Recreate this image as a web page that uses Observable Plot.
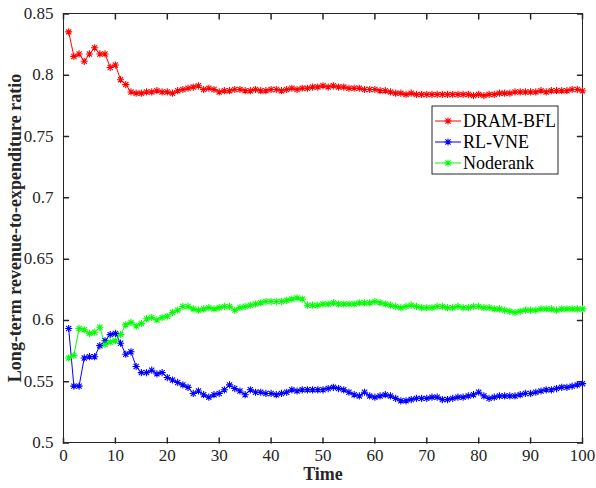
<!DOCTYPE html>
<html>
<head>
<meta charset="utf-8">
<script src="https://cdn.jsdelivr.net/npm/d3@7"></script>
<script src="https://cdn.jsdelivr.net/npm/@observablehq/plot@0.6"></script>
<style>
  html, body { margin: 0; padding: 0; background: #fff; }
  #chart { width: 596px; height: 488px; }
</style>
</head>
<body>
<div id="chart"></div>
<script>
// ---- data ----
const seriesNames = ["DRAM-BFL", "RL-VNE", "Noderank"];
const seriesColors = ["#ff0000", "#0000ff", "#00ff00"];
const xTicks = [0, 10, 20, 30, 40, 50, 60, 70, 80, 90, 100];
const yTicks = [0.5, 0.55, 0.6, 0.65, 0.7, 0.75, 0.8, 0.85];
const yTickLabels = ["0.5", "0.55", "0.6", "0.65", "0.7", "0.75", "0.8", "0.85"];

const dramBFL = [
  0.835, 0.815, 0.817, 0.811, 0.817, 0.822, 0.817, 0.817, 0.806, 0.808,
  0.796, 0.792, 0.786, 0.785, 0.785, 0.786, 0.786, 0.787, 0.786, 0.786,
  0.785, 0.787, 0.788, 0.789, 0.790, 0.791, 0.788, 0.789, 0.788, 0.786,
  0.787, 0.787, 0.788, 0.788, 0.787, 0.787, 0.788, 0.787, 0.787, 0.788,
  0.788, 0.787, 0.788, 0.789, 0.788, 0.789, 0.789, 0.790, 0.790, 0.791,
  0.790, 0.791, 0.790, 0.790, 0.789, 0.789, 0.789, 0.788, 0.788, 0.788,
  0.787, 0.787, 0.786, 0.785, 0.785, 0.784, 0.785, 0.784, 0.784, 0.784,
  0.784, 0.784, 0.784, 0.784, 0.784, 0.784, 0.784, 0.784, 0.783, 0.784,
  0.783, 0.784, 0.784, 0.785, 0.785, 0.785, 0.786, 0.786, 0.786, 0.786,
  0.786, 0.787, 0.786, 0.787, 0.787, 0.787, 0.787, 0.788, 0.788, 0.787
];
const rlVNE = [
  0.593, 0.546, 0.546, 0.569, 0.570, 0.570, 0.579, 0.583, 0.588, 0.589,
  0.581, 0.572, 0.574, 0.562, 0.557, 0.557, 0.559, 0.556, 0.557, 0.553,
  0.551, 0.549, 0.547, 0.545, 0.540, 0.542, 0.539, 0.537, 0.539, 0.540,
  0.543, 0.547, 0.544, 0.542, 0.539, 0.543, 0.541, 0.541, 0.540, 0.540,
  0.539, 0.540, 0.541, 0.543, 0.542, 0.543, 0.543, 0.543, 0.543, 0.543,
  0.544, 0.545, 0.544, 0.543, 0.541, 0.539, 0.538, 0.541, 0.538, 0.537,
  0.538, 0.539, 0.538, 0.536, 0.534, 0.534, 0.535, 0.536, 0.536, 0.536,
  0.537, 0.537, 0.535, 0.535, 0.536, 0.537, 0.537, 0.538, 0.539, 0.541,
  0.538, 0.536, 0.537, 0.538, 0.538, 0.538, 0.538, 0.539, 0.540, 0.540,
  0.541, 0.542, 0.543, 0.543, 0.544, 0.545, 0.545, 0.546, 0.547, 0.548
];
const noderank = [
  0.569, 0.571, 0.593, 0.592, 0.589, 0.590, 0.594, 0.580, 0.582, 0.583,
  0.588, 0.596, 0.598, 0.595, 0.597, 0.601, 0.602, 0.600, 0.602, 0.603,
  0.606, 0.608, 0.611, 0.611, 0.609, 0.608, 0.609, 0.610, 0.609, 0.610,
  0.611, 0.611, 0.608, 0.610, 0.611, 0.612, 0.613, 0.614, 0.615, 0.615,
  0.615, 0.615, 0.616, 0.617, 0.618, 0.617, 0.612, 0.612, 0.612, 0.613,
  0.613, 0.614, 0.613, 0.613, 0.613, 0.613, 0.614, 0.614, 0.614, 0.615,
  0.614, 0.613, 0.612, 0.611, 0.610, 0.611, 0.612, 0.611, 0.610, 0.610,
  0.610, 0.611, 0.611, 0.610, 0.610, 0.611, 0.610, 0.610, 0.611, 0.611,
  0.610, 0.610, 0.609, 0.609, 0.608, 0.607, 0.606, 0.607, 0.608, 0.608,
  0.608, 0.609, 0.609, 0.609, 0.608, 0.609, 0.609, 0.609, 0.609, 0.609
];
const seriesValues = [dramBFL, rlVNE, noderank];

// ---- build table ----
const rows = [];
seriesNames.forEach((name, si) => {
  seriesValues[si].forEach((v, i) => rows.push({series: name, time: i + 1, value: v}));
});

// MATLAB-like "*" marker: plus + cross
const star8 = {
  draw(context, size) {
    const r = Math.sqrt(size / Math.PI);
    const d = r * 0.72;
    context.moveTo(-r, 0); context.lineTo(r, 0);
    context.moveTo(0, -r); context.lineTo(0, r);
    context.moveTo(-d, -d); context.lineTo(d, d);
    context.moveTo(-d, d); context.lineTo(d, -d);
  }
};

// inward tick shapes (length in px)
const TICK = 5;
const tickIn = (dx, dy) => ({draw(context, l) { context.moveTo(0, 0); context.lineTo(dx * TICK, dy * TICK); }});

const FONT = "'Liberation Serif', 'Times New Roman', Times, serif";
const axisColor = "#262626";

const chart = Plot.plot({
  width: 596,
  height: 488,
  marginLeft: 63,
  marginRight: 14,
  marginTop: 13,
  marginBottom: 46,
  style: {fontFamily: FONT, fontSize: "17px", color: axisColor, background: "#fff", overflow: "visible"},
  x: {domain: [0, 100]},
  y: {domain: [0.5, 0.85]},
  color: {domain: seriesNames, range: seriesColors},
  marks: [
    Plot.axisX({ticks: xTicks, tickSize: 0, tickPadding: 6, label: null, fill: axisColor, fontSize: 17, fontFamily: FONT}),
    Plot.axisY({ticks: yTicks, tickSize: 0, tickPadding: 10, label: null, fill: axisColor, fontSize: 17, fontFamily: FONT,
      tickFormat: (d) => yTickLabels[yTicks.findIndex(t => Math.abs(t - d) < 1e-9)]}),
    // inward ticks on all four sides
    Plot.vector(xTicks, {x: d => d, frameAnchor: "bottom", length: 1, shape: tickIn(0, -1), stroke: axisColor}),
    Plot.vector(xTicks, {x: d => d, frameAnchor: "top", length: 1, shape: tickIn(0, 1), stroke: axisColor}),
    Plot.vector(yTicks, {y: d => d, frameAnchor: "left", length: 1, shape: tickIn(1, 0), stroke: axisColor}),
    Plot.vector(yTicks, {y: d => d, frameAnchor: "right", length: 1, shape: tickIn(-1, 0), stroke: axisColor}),
    Plot.frame({stroke: axisColor, strokeWidth: 1}),
    Plot.line(rows, {x: "time", y: "value", z: "series", stroke: "series", strokeWidth: 1}),
    Plot.dot(rows, {x: "time", y: "value", stroke: "series", symbol: () => star8, r: 3.6, strokeWidth: 1.1}),
    Plot.text(["Time"], {frameAnchor: "bottom", textAnchor: "middle", dy: 37, fontWeight: "bold", fontSize: 18, fill: axisColor, fontFamily: FONT}),
    Plot.text(["Long-term revenue-to-expenditure ratio"], {frameAnchor: "left", textAnchor: "middle", dx: -48, rotate: -90, fontWeight: "bold", fontSize: 18, fill: axisColor, fontFamily: FONT})
  ]
});

document.getElementById("chart").appendChild(chart);

// ---- legend inside the plot (top right area) ----
const svg = d3.select(chart);
const lg = svg.append("g").attr("transform", "translate(432,106)");
lg.append("rect").attr("width", 126).attr("height", 68).attr("fill", "#fff").attr("stroke", axisColor).attr("stroke-width", 1);
seriesNames.forEach((name, i) => {
  const cy = 15 + i * 21;
  const g = lg.append("g").attr("transform", `translate(0,${cy})`);
  g.append("line").attr("x1", 3).attr("x2", 29).attr("y1", 0).attr("y2", 0).attr("stroke", seriesColors[i]).attr("stroke-width", 1);
  const p = d3.path();
  star8.draw(p, Math.PI * 3.6 * 3.6);
  g.append("path").attr("d", p.toString()).attr("transform", "translate(16,0)").attr("stroke", seriesColors[i]).attr("stroke-width", 1.1).attr("fill", "none");
  g.append("text").attr("x", 31).attr("y", 0).attr("dy", "0.35em")
    .attr("text-anchor", "start").style("font-family", FONT).attr("font-size", 18).attr("fill", "#000").text(name);
});
</script>
</body>
</html>
